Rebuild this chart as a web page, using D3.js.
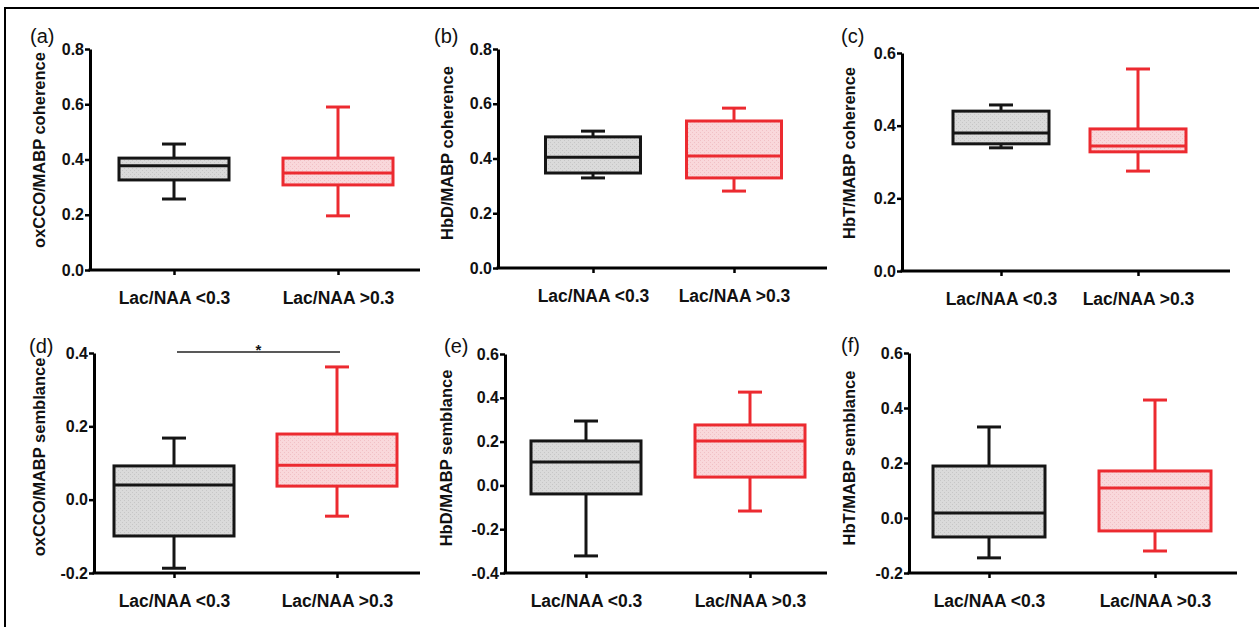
<!DOCTYPE html>
<html>
<head>
<meta charset="utf-8">
<script src="https://cdn.jsdelivr.net/npm/d3@7"></script>
<style>
  body { margin: 0; background: #fff; }
  svg { display: block; }
  text { font-family: "Liberation Sans", Arial, sans-serif; }
</style>
</head>
<body>
<svg id="chart" width="1259" height="627"></svg>
<script>
// group names on the x axis
const groups = ["Lac/NAA <0.3", "Lac/NAA >0.3"];
const panelLetters = ["(a)", "(b)", "(c)", "(d)", "(e)", "(f)"];
const yTitles = ["oxCCO/MABP coherence", "HbD/MABP coherence", "HbT/MABP coherence",
                 "oxCCO/MABP semblance", "HbD/MABP semblance", "HbT/MABP semblance"];
const yDomains = [[0, 0.8], [0, 0.8], [0, 0.6], [-0.2, 0.4], [-0.4, 0.6], [-0.2, 0.6]];
const yTickValues = [
  [0, 0.2, 0.4, 0.6, 0.8], [0, 0.2, 0.4, 0.6, 0.8], [0, 0.2, 0.4, 0.6],
  [-0.2, 0, 0.2, 0.4], [-0.4, -0.2, 0, 0.2, 0.4, 0.6], [-0.2, 0, 0.2, 0.4, 0.6]
];
// [min, q1, median, q3, max]
const lowLacStats = [
  [0.257, 0.326, 0.377, 0.405, 0.456],
  [0.329, 0.347, 0.405, 0.479, 0.500],
  [0.339, 0.350, 0.380, 0.440, 0.457],
  [-0.187, -0.099, 0.040, 0.092, 0.168],
  [-0.322, -0.039, 0.107, 0.203, 0.294],
  [-0.145, -0.069, 0.018, 0.189, 0.331]
];
const highLacStats = [
  [0.196, 0.308, 0.351, 0.405, 0.590],
  [0.281, 0.329, 0.409, 0.537, 0.584],
  [0.275, 0.328, 0.344, 0.391, 0.556],
  [-0.045, 0.037, 0.094, 0.179, 0.362],
  [-0.117, 0.038, 0.203, 0.276, 0.426],
  [-0.120, -0.047, 0.109, 0.171, 0.429]
];
// significance bar: panel (d), at y = 0.4
const sigPanel = 3, sigValue = 0.4, sigMark = "*";

// layout of each panel in pixels
const layout = [
  { x0: 90,  x1: 420,  y: [270, 49],  cats: [174, 338],  boxW: 110, tX: 39,  tY: 150, lX: 30,  lY: 43 },
  { x0: 498, x1: 827,  y: [268, 49],  cats: [593, 734],  boxW: 95,  tX: 447, tY: 153, lX: 434, lY: 43 },
  { x0: 902, x1: 1230, y: [271, 53],  cats: [1001, 1138], boxW: 96, tX: 849, tY: 153, lX: 841, lY: 43 },
  { x0: 94,  x1: 420,  y: [573, 353], cats: [174, 337],  boxW: 120, tX: 39,  tY: 457, lX: 29,  lY: 353 },
  { x0: 505, x1: 827,  y: [573, 354], cats: [586, 750],  boxW: 110, tX: 446, tY: 458, lX: 444, lY: 353 },
  { x0: 909, x1: 1237, y: [573, 353], cats: [989, 1155], boxW: 112, tX: 849, tY: 458, lX: 841, lY: 352 }
];

const strokes = ["#151515", "#ec2a30"];
const svg = d3.select("#chart");

// stippled fills
const defs = svg.append("defs");
function stipple(id, base, dot) {
  const p = defs.append("pattern").attr("id", id)
    .attr("width", 4).attr("height", 4).attr("patternUnits", "userSpaceOnUse");
  p.append("rect").attr("width", 4).attr("height", 4).attr("fill", base);
  p.append("rect").attr("x", 0).attr("y", 0).attr("width", 1).attr("height", 1).attr("fill", dot);
  p.append("rect").attr("x", 2).attr("y", 2).attr("width", 1).attr("height", 1).attr("fill", dot);
}
stipple("fillGray", "#dadada", "#c6c6c6");
stipple("fillPink", "#f9d8db", "#f1c0c5");
const fills = ["url(#fillGray)", "url(#fillPink)"];

// outer frame (only top and left edges visible)
svg.append("path").attr("d", "M5,627 V8 H1259")
  .attr("fill", "none").attr("stroke", "#000").attr("stroke-width", 2);

const fmt = d => d3.format(".1f")(d).replace("−", "-");

layout.forEach((L, i) => {
  const g = svg.append("g");
  const y = d3.scaleLinear().domain(yDomains[i]).range(L.y);
  const x = d3.scalePoint().domain(groups).range(L.cats);

  // boxes
  [lowLacStats[i], highLacStats[i]].forEach((s, k) => {
    const cx = x(groups[k]);
    const bg = g.append("g").attr("stroke", strokes[k]).attr("stroke-width", 3).attr("fill", "none");
    const capW = 24;
    bg.append("line").attr("x1", cx).attr("x2", cx).attr("y1", y(s[0])).attr("y2", y(s[1]));
    bg.append("line").attr("x1", cx).attr("x2", cx).attr("y1", y(s[3])).attr("y2", y(s[4]));
    bg.append("line").attr("x1", cx - capW / 2).attr("x2", cx + capW / 2).attr("y1", y(s[0])).attr("y2", y(s[0]));
    bg.append("line").attr("x1", cx - capW / 2).attr("x2", cx + capW / 2).attr("y1", y(s[4])).attr("y2", y(s[4]));
    bg.append("rect").attr("x", cx - L.boxW / 2).attr("width", L.boxW)
      .attr("y", y(s[3])).attr("height", y(s[1]) - y(s[3]))
      .attr("fill", fills[k]);
    bg.append("line").attr("x1", cx - L.boxW / 2).attr("x2", cx + L.boxW / 2)
      .attr("y1", y(s[2])).attr("y2", y(s[2]));
  });

  // y axis
  const ya = g.append("g").attr("transform", `translate(${L.x0},0)`)
    .call(d3.axisLeft(y).tickValues(yTickValues[i]).tickFormat(fmt).tickSize(5).tickSizeOuter(0).tickPadding(1));
  ya.select(".domain").attr("stroke", "#000").attr("stroke-width", 3);
  ya.selectAll(".tick line").attr("stroke", "#000").attr("stroke-width", 2.5);
  ya.selectAll(".tick text").attr("font-size", 16).attr("font-weight", "bold").attr("fill", "#111");

  // x axis
  g.append("line").attr("x1", L.x0 - 1.5).attr("x2", L.x1).attr("y1", L.y[0]).attr("y2", L.y[0])
    .attr("stroke", "#000").attr("stroke-width", 3);
  const xa = g.append("g").attr("transform", `translate(0,${L.y[0]})`)
    .call(d3.axisBottom(x).tickSize(5).tickPadding(17));
  xa.select(".domain").remove();
  xa.selectAll(".tick line").attr("stroke", "#000").attr("stroke-width", 2.5);
  xa.selectAll(".tick text").attr("font-size", 17.5).attr("font-weight", "bold").attr("fill", "#111");

  // y title
  g.append("text")
    .attr("transform", `translate(${L.tX},${L.tY}) rotate(-90)`)
    .attr("text-anchor", "middle").attr("dy", "0.35em")
    .attr("font-size", 16.5).attr("font-weight", "bold").attr("fill", "#111")
    .text(yTitles[i]);

  // panel letter
  g.append("text").attr("x", L.lX).attr("y", L.lY)
    .attr("font-size", 20).attr("fill", "#111").text(panelLetters[i]);

  if (i === sigPanel) {
    g.append("line").attr("x1", x(groups[0]) + 3).attr("x2", x(groups[1]) + 3)
      .attr("y1", y(sigValue) - 1).attr("y2", y(sigValue) - 1)
      .attr("stroke", "#222").attr("stroke-width", 1.5);
    g.append("text").attr("x", (x(groups[0]) + x(groups[1])) / 2 + 3).attr("y", y(sigValue) + 2)
      .attr("text-anchor", "middle").attr("font-size", 15).attr("font-weight", "bold")
      .attr("fill", "#111").text(sigMark);
  }
});
</script>
</body>
</html>
